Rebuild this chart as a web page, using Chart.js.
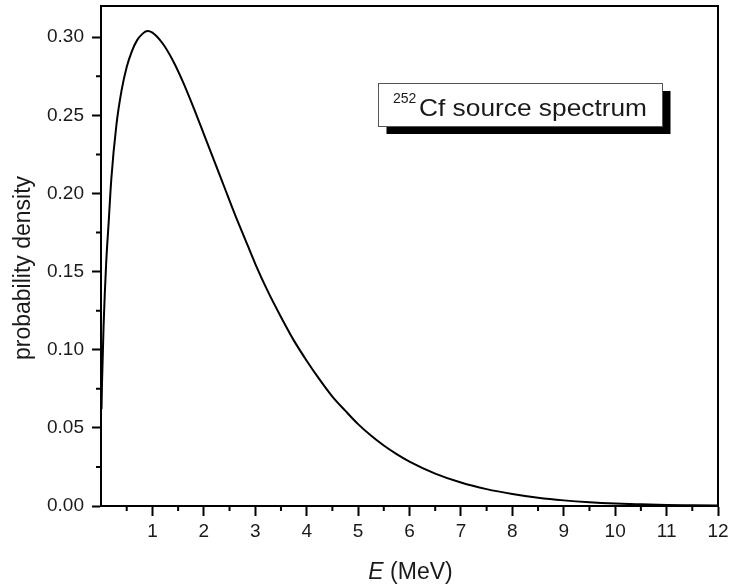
<!DOCTYPE html>
<html><head><meta charset="utf-8">
<script src="https://cdn.jsdelivr.net/npm/chart.js@4"></script>
<style>html,body{margin:0;padding:0;background:#fff}#wrap{width:730px;height:586px;position:relative}</style>
</head><body><div id="wrap"><canvas id="c"></canvas></div>
<script>
// Energy (MeV) and probability density
const energyMeV = [0.01, 0.02, 0.05, 0.1, 0.15, 0.2, 0.3, 0.4, 0.5, 0.6, 0.7, 0.8, 0.9, 1.0,
  1.2, 1.4, 1.6, 1.8, 2.0, 2.2, 2.4, 2.6, 2.8, 3.0, 3.25, 3.5, 3.75, 4.0, 4.25, 4.5, 4.75,
  5.0, 5.25, 5.5, 5.75, 6.0, 6.5, 7.0, 7.5, 8.0, 8.5, 9.0, 9.5, 10.0, 10.5, 11.0, 11.5, 12.0];
const probabilityDensity = [0.062, 0.079, 0.115, 0.155, 0.182, 0.209, 0.244, 0.266, 0.281, 0.291,
  0.298, 0.302, 0.304, 0.303, 0.296, 0.285, 0.271, 0.255, 0.238, 0.221, 0.204, 0.187, 0.171,
  0.155, 0.137, 0.121, 0.106, 0.093, 0.081, 0.070, 0.061, 0.0524, 0.0451, 0.0387, 0.0332,
  0.0284, 0.0207, 0.0150, 0.0108, 0.0077, 0.0053, 0.0036, 0.0024, 0.0016, 0.0011, 0.0007,
  0.0005, 0.0003];
const xTickValues = [0, 1, 2, 3, 4, 5, 6, 7, 8, 9, 10, 11, 12];
const yTickValues = [0, 0.05, 0.10, 0.15, 0.20, 0.25, 0.30];
const xMinorTicks = [0.5, 1.5, 2.5, 3.5, 4.5, 5.5, 6.5, 7.5, 8.5, 9.5, 10.5, 11.5];
const yMinorTicks = [0.025, 0.075, 0.125, 0.175, 0.225, 0.275];
const xTitleItalic = 'E';
const xTitleRest = ' (MeV)';
const yTitle = 'probability density';
const legendSup = '252';
const legendText = 'Cf source spectrum';

const FONT = '"Liberation Sans", Arial, sans-serif';
const INK = '#1a1a1a';

const decor = {
  id: 'decor',
  afterDraw(chart) {
    const ctx = chart.ctx, a = chart.chartArea;
    const xs = chart.scales.x, ys = chart.scales.y;
    ctx.save();
    // frame top & right
    ctx.strokeStyle = '#000'; ctx.lineWidth = 2;
    ctx.beginPath();
    ctx.moveTo(a.left, a.top); ctx.lineTo(a.right, a.top); ctx.lineTo(a.right, a.bottom);
    ctx.stroke();
    // minor ticks
    ctx.lineWidth = 2;
    ctx.beginPath();
    xMinorTicks.forEach(v => { const p = xs.getPixelForValue(v); ctx.moveTo(p, a.bottom); ctx.lineTo(p, a.bottom + 5); });
    yMinorTicks.forEach(v => { const p = ys.getPixelForValue(v); ctx.moveTo(a.left, p); ctx.lineTo(a.left - 5, p); });
    ctx.stroke();
    // y title
    ctx.fillStyle = INK;
    ctx.font = '23px ' + FONT;
    ctx.textAlign = 'center'; ctx.textBaseline = 'middle';
    ctx.save(); ctx.translate(24, 268); ctx.rotate(-Math.PI / 2); ctx.fillText(yTitle, 0, 0); ctx.restore();
    // x title
    ctx.textBaseline = 'alphabetic'; ctx.textAlign = 'left';
    ctx.font = 'italic 23px ' + FONT;
    const w1 = ctx.measureText(xTitleItalic).width;
    ctx.font = '23px ' + FONT;
    const w2 = ctx.measureText(xTitleRest).width;
    const cx = (a.left + a.right) / 2 + 1;
    let sx = cx - (w1 + w2) / 2;
    ctx.font = 'italic 23px ' + FONT; ctx.fillText(xTitleItalic, sx, 579);
    ctx.font = '23px ' + FONT; ctx.fillText(xTitleRest, sx + w1, 579);
    // legend box with shadow
    const bx = 378.5, by = 83.5, bw = 284, bh = 43;
    ctx.fillStyle = '#000'; ctx.fillRect(bx + 8, by + 7.5, bw, bh);
    ctx.fillStyle = '#fff'; ctx.fillRect(bx, by, bw, bh);
    ctx.strokeStyle = '#555'; ctx.lineWidth = 1; ctx.strokeRect(bx, by, bw, bh);
    ctx.fillStyle = INK;
    ctx.font = '14px ' + FONT;
    ctx.fillText(legendSup, 393, 103);
    ctx.font = '24px ' + FONT;
    const mw = ctx.measureText(legendText).width;
    ctx.save(); ctx.translate(419, 116); ctx.scale(228 / mw, 1); ctx.fillText(legendText, 0, 0); ctx.restore();
    ctx.restore();
  }
};

new Chart(document.getElementById('c'), {
  type: 'line',
  data: {
    datasets: [{
      data: energyMeV.map((e, i) => ({ x: e, y: probabilityDensity[i] })),
      borderColor: '#000', borderWidth: 2, pointRadius: 0, fill: false,
      cubicInterpolationMode: 'monotone'
    }]
  },
  options: {
    responsive: true, maintainAspectRatio: false, animation: false,
    layout: { padding: { top: 6, right: 12, left: 0, bottom: 0 } },
    plugins: { legend: { display: false }, tooltip: { enabled: false } },
    scales: {
      x: {
        type: 'linear', min: 0, max: 12,
        afterFit: s => { s.height = 80; s.paddingLeft = 0; s.paddingRight = 0; },
        afterBuildTicks: s => { s.ticks = xTickValues.map(v => ({ value: v })); },
        border: { display: true, color: '#000', width: 2 },
        grid: { drawOnChartArea: false, drawTicks: true, tickLength: 10, tickWidth: 2,
          tickColor: c => (c.tick && c.tick.value === 0) ? 'rgba(0,0,0,0)' : '#000' },
        ticks: { color: INK, font: { family: FONT, size: 19 }, padding: 4, maxRotation: 0,
          callback: v => v === 0 ? '' : String(v) }
      },
      y: {
        min: 0, max: 0.32,
        afterFit: s => { s.width = 101; s.paddingTop = 0; s.paddingBottom = 0; },
        afterBuildTicks: s => { s.ticks = yTickValues.map(v => ({ value: v })); },
        border: { display: true, color: '#000', width: 2 },
        grid: { drawOnChartArea: false, drawTicks: true, tickLength: 9, tickWidth: 2, tickColor: '#000' },
        ticks: { color: INK, font: { family: FONT, size: 19 }, padding: 8,
          callback: v => Number(v).toFixed(2) }
      }
    }
  },
  plugins: [decor]
});
</script></body></html>
